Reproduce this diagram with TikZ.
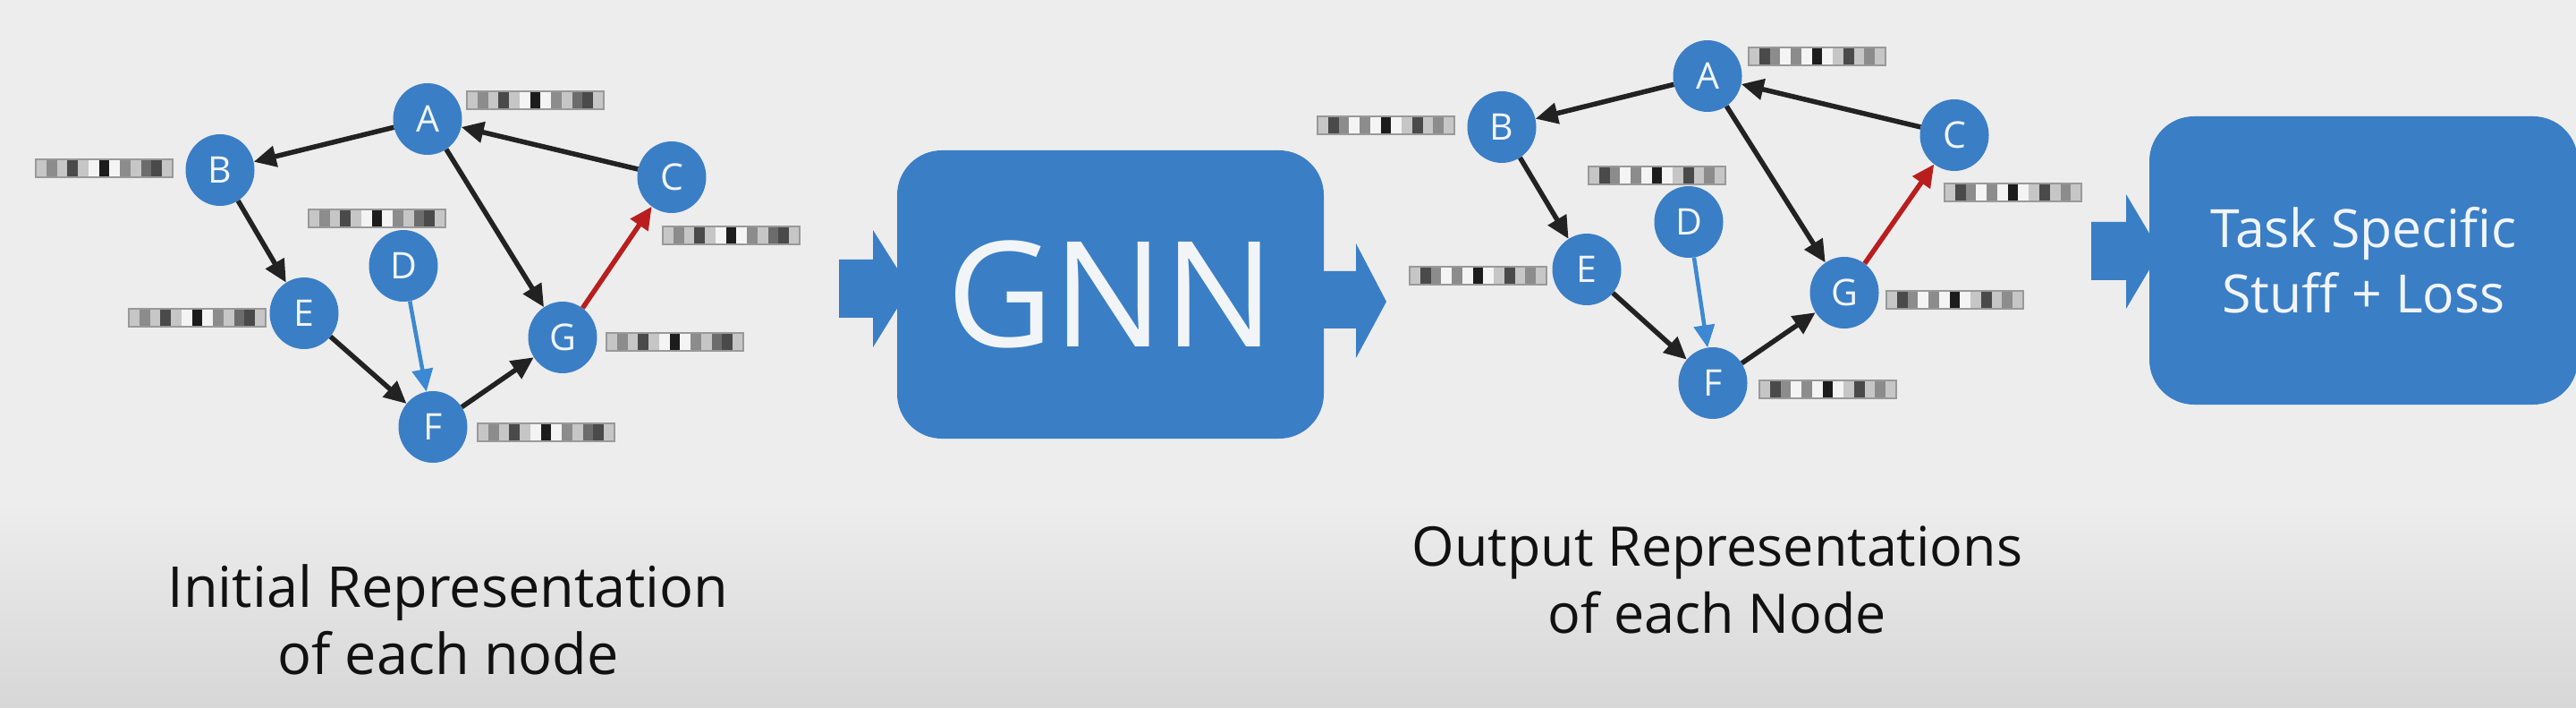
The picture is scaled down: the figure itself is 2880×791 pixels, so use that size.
\documentclass[tikz,border=0pt]{standalone}
\usepackage{fontspec}
\setmainfont{Open Sans}
\usetikzlibrary{arrows.meta,shapes.geometric}
\definecolor{bgc}{HTML}{EDEDED}
\definecolor{bgdark}{HTML}{D7D7D7}
\definecolor{nodeblue}{RGB}{58,126,198}
\definecolor{edgeblack}{HTML}{222222}
\definecolor{edgered}{RGB}{185,30,30}
\definecolor{edgeblue}{RGB}{60,136,210}
\definecolor{ltext}{HTML}{F2F5F8}
\definecolor{txt}{HTML}{111111}
\definecolor{fW}{HTML}{F4F4F4}
\definecolor{fL}{HTML}{C6C6C6}
\definecolor{fM}{HTML}{8C8C8C}
\definecolor{fN}{HTML}{6C6C6C}
\definecolor{fD}{HTML}{4A4A4A}
\definecolor{fK}{HTML}{1C1C1C}
\newcommand\featbar[3]{%
  \foreach \cc [count=\ii from 0] in #3 {\fill[\cc] ({#1+\ii*11.77},#2) rectangle ++(11.77,20);}
  \draw[barframe] (#1,#2) rectangle ++(153,20);}
\begin{document}
\begin{tikzpicture}[x=1pt,y=-1pt,
  gnode/.style={ellipse, fill=nodeblue, minimum width=77pt, minimum height=80pt, inner sep=0pt,
    text=ltext, font=\fontsize{41}{41}\selectfont},
  edge/.style={line width=5.5pt, draw=edgeblack, -{Triangle[length=25pt,width=23pt]}},
  bedge/.style={edge, line width=4.5pt, draw=edgeblue},
  redge/.style={edge, draw=edgered},
  barframe/.style={draw=gray!80, line width=1.2pt},
  bigbox/.style={fill=nodeblue, rounded corners=50pt, text=ltext, inner sep=0pt},
  blockarrow/.style={fill=nodeblue},
  caption/.style={text=txt, font=\fontsize{63}{63}\selectfont, anchor=base, inner sep=0pt}]
\useasboundingbox (0,0) rectangle (2880,791);
\fill[bgc] (0,0) rectangle (2880,791);
\shade[top color=bgc, bottom color=bgdark] (0,560) rectangle (2880,791);

% ---------- left graph ----------
\node[gnode] (lA) at (478,133) {A};
\node[gnode] (lB) at (246,190) {B};
\node[gnode] (lC) at (751,198) {C};
\node[gnode] (lD) at (451,297) {D};
\node[gnode] (lE) at (340,350) {E};
\node[gnode] (lF) at (484,477) {F};
\node[gnode] (lG) at (629,377) {G};
\draw[edge] (lA) -- (lB);
\draw[edge] (lC) -- (lA);
\draw[edge] (lA) -- (lG);
\draw[edge] (lB) -- (lE);
\draw[edge] (lE) -- (lF);
\draw[edge] (lF) -- (lG);
\draw[bedge] (lD) -- (lF);
\draw[redge] (lG) -- (lC);
\def\patL{fL,fM,fL,fD,fL,fW,fK,fW,fM,fL,fN,fD,fL}
\featbar{522}{102}{\patL}
\featbar{40}{178}{\patL}
\featbar{345}{234}{\patL}
\featbar{741}{253}{\patL}
\featbar{144}{345}{\patL}
\featbar{678}{372}{\patL}
\featbar{534}{473}{\patL}

% ---------- block arrows ----------
\fill[blockarrow] (938,290) -- (976,290) -- (976,257) -- (1017,322) -- (976,388) -- (976,355) -- (938,355) -- cycle;
\fill[blockarrow] (1470,303) -- (1516,303) -- (1516,272) -- (1550,337) -- (1516,400) -- (1516,367) -- (1470,367) -- cycle;
\fill[blockarrow] (2338,248) -- (2377,248) -- (2377,217) -- (2415,281) -- (2377,345) -- (2377,313) -- (2338,313) -- cycle;

% ---------- GNN box ----------
\node[bigbox, minimum width=477pt, minimum height=322pt, font=\fontsize{164}{164}\selectfont]
  (gnn) at (1241.5,329) {\raisebox{-4pt}{GNN}};

% ---------- task box ----------
\node[bigbox, minimum width=479pt, minimum height=322pt, align=center, font=\fontsize{59}{73}\selectfont]
  (task) at (2642.5,291) {Task Specific\\Stuff + Loss};

% ---------- right graph ----------
\node[gnode] (rA) at (1909,85) {A};
\node[gnode] (rB) at (1679,142) {B};
\node[gnode] (rC) at (2185,151) {C};
\node[gnode] (rD) at (1888,248) {D};
\node[gnode] (rE) at (1774,301) {E};
\node[gnode] (rF) at (1915,428) {F};
\node[gnode] (rG) at (2062,327) {G};
\draw[edge] (rA) -- (rB);
\draw[edge] (rC) -- (rA);
\draw[edge] (rA) -- (rG);
\draw[edge] (rB) -- (rE);
\draw[edge] (rE) -- (rF);
\draw[edge] (rF) -- (rG);
\draw[bedge] (rD) -- (rF);
\draw[redge] (rG) -- (rC);
\def\patR{fL,fD,fM,fW,fM,fW,fK,fW,fL,fD,fL,fM,fL}
\featbar{1955}{53}{\patR}
\featbar{1473}{130}{\patR}
\featbar{1776}{186}{\patR}
\featbar{2174}{205}{\patR}
\featbar{1576}{298}{\patR}
\featbar{2109}{325}{\patR}
\featbar{1967}{425}{\patR}

% ---------- captions ----------
\node[caption] (lt1) at (501,678) {Initial Representation};
\node[caption] (lt2) at (501,753) {of each node};
\node[caption, font=\fontsize{61}{61}\selectfont] (rt1) at (1920,632) {Output Representations};
\node[caption, font=\fontsize{61}{61}\selectfont] (rt2) at (1920,707) {of each Node};
\end{tikzpicture}
\end{document}
